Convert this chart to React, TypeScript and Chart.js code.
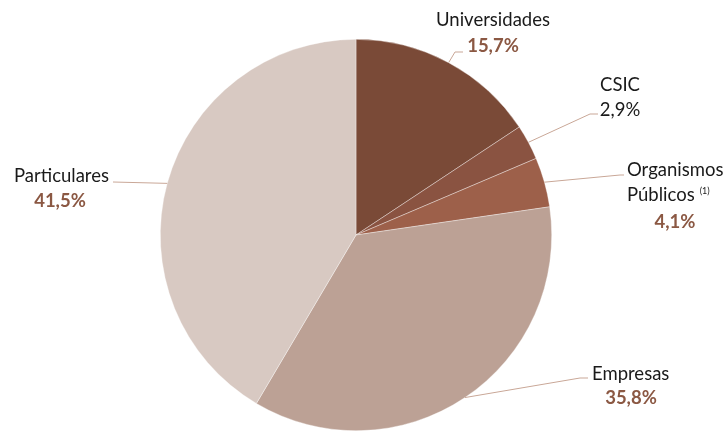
import React, { useEffect, useRef } from "react";
import { Chart, registerables } from "chart.js";

Chart.register(...registerables);

const categories = ["Universidades", "CSIC", "Organismos Públicos", "Empresas", "Particulares"];
const values = [15.7, 2.9, 4.1, 35.8, 41.5];
const valueLabels = ["15,7%", "2,9%", "4,1%", "35,8%", "41,5%"];
const colors = ["#7A4A37", "#8A5341", "#9D604A", "#BCA195", "#D8C9C2"];

const FONT = "Lato, 'Open Sans', sans-serif";
const FONT_SIZE = 18.5;
const PCT_COLOR = "#8B5843";
const LINE_COLOR = "#C9A797";

type TextItem = { t: string; x: number; y: number; align: CanvasTextAlign; bold?: boolean; color?: string; sup?: string };
type LabelLayout = { bend: [number, number]; end: [number, number]; texts: TextItem[] };

const layouts: LabelLayout[] = [
  {
    bend: [455, 52], end: [463, 52],
    texts: [
      { t: categories[0], x: 493, y: 20, align: "center" },
      { t: valueLabels[0], x: 493, y: 46, align: "center", bold: true, color: PCT_COLOR },
    ],
  },
  {
    bend: [590, 114], end: [598, 114],
    texts: [
      { t: categories[1], x: 620, y: 85, align: "center" },
      { t: valueLabels[1], x: 620, y: 110, align: "center" },
    ],
  },
  {
    bend: [620, 175], end: [624, 175],
    texts: [
      { t: "Organismos", x: 627, y: 170, align: "left" },
      { t: "Públicos", x: 627, y: 195, align: "left", sup: "(1)" },
      { t: valueLabels[2], x: 675, y: 222, align: "center", bold: true, color: PCT_COLOR },
    ],
  },
  {
    bend: [580, 378], end: [588, 378],
    texts: [
      { t: categories[3], x: 592, y: 374, align: "left" },
      { t: valueLabels[3], x: 631, y: 398, align: "center", bold: true, color: PCT_COLOR },
    ],
  },
  {
    bend: [113, 182], end: [113, 182],
    texts: [
      { t: categories[4], x: 109, y: 176, align: "right" },
      { t: valueLabels[4], x: 60, y: 201, align: "center", bold: true, color: PCT_COLOR },
    ],
  },
];

const labelPlugin = {
  id: "pieLabels",
  afterDraw(chart: any) {
    const ctx = chart.ctx;
    const meta = chart.getDatasetMeta(0);
    meta.data.forEach((arc: any, i: number) => {
      const p = arc.getProps(["x", "y", "startAngle", "endAngle", "outerRadius"], true);
      const mid = (p.startAngle + p.endAngle) / 2;
      const sx = p.x + Math.cos(mid) * p.outerRadius;
      const sy = p.y + Math.sin(mid) * p.outerRadius;
      const L = layouts[i];
      ctx.save();
      ctx.strokeStyle = LINE_COLOR;
      ctx.lineWidth = 1;
      ctx.beginPath();
      ctx.moveTo(sx, sy);
      ctx.lineTo(L.bend[0], L.bend[1]);
      ctx.lineTo(L.end[0], L.end[1]);
      ctx.stroke();
      ctx.textBaseline = "middle";
      L.texts.forEach((tx) => {
        ctx.font = `${tx.bold ? "bold " : ""}${FONT_SIZE}px ${FONT}`;
        ctx.fillStyle = tx.color || "#1a1a1a";
        ctx.textAlign = tx.align;
        ctx.fillText(tx.t, tx.x, tx.y);
        if (tx.sup) {
          const w = ctx.measureText(tx.t).width;
          ctx.font = `9px ${FONT}`;
          ctx.textAlign = "left";
          ctx.fillText(tx.sup, tx.x + w + 5, tx.y - 4);
        }
      });
      ctx.restore();
    });
  },
};

export default function App() {
  const ref = useRef<HTMLCanvasElement | null>(null);
  useEffect(() => {
    document.body.style.margin = "0";
    const chart = new Chart(ref.current!, {
      type: "pie",
      data: {
        labels: categories,
        datasets: [
          {
            data: values,
            backgroundColor: colors,
            borderColor: "rgba(255,255,255,0.6)",
            borderWidth: 0.6,
          },
        ],
      },
      options: {
        responsive: false,
        animation: false,
        layout: { padding: { left: 160, right: 175, top: 39, bottom: 1 } },
        plugins: { legend: { display: false }, tooltip: { enabled: false } },
      },
      plugins: [labelPlugin],
    });
    return () => chart.destroy();
  }, []);
  return <canvas ref={ref} width={727} height={432} style={{ display: "block" }} />;
}
